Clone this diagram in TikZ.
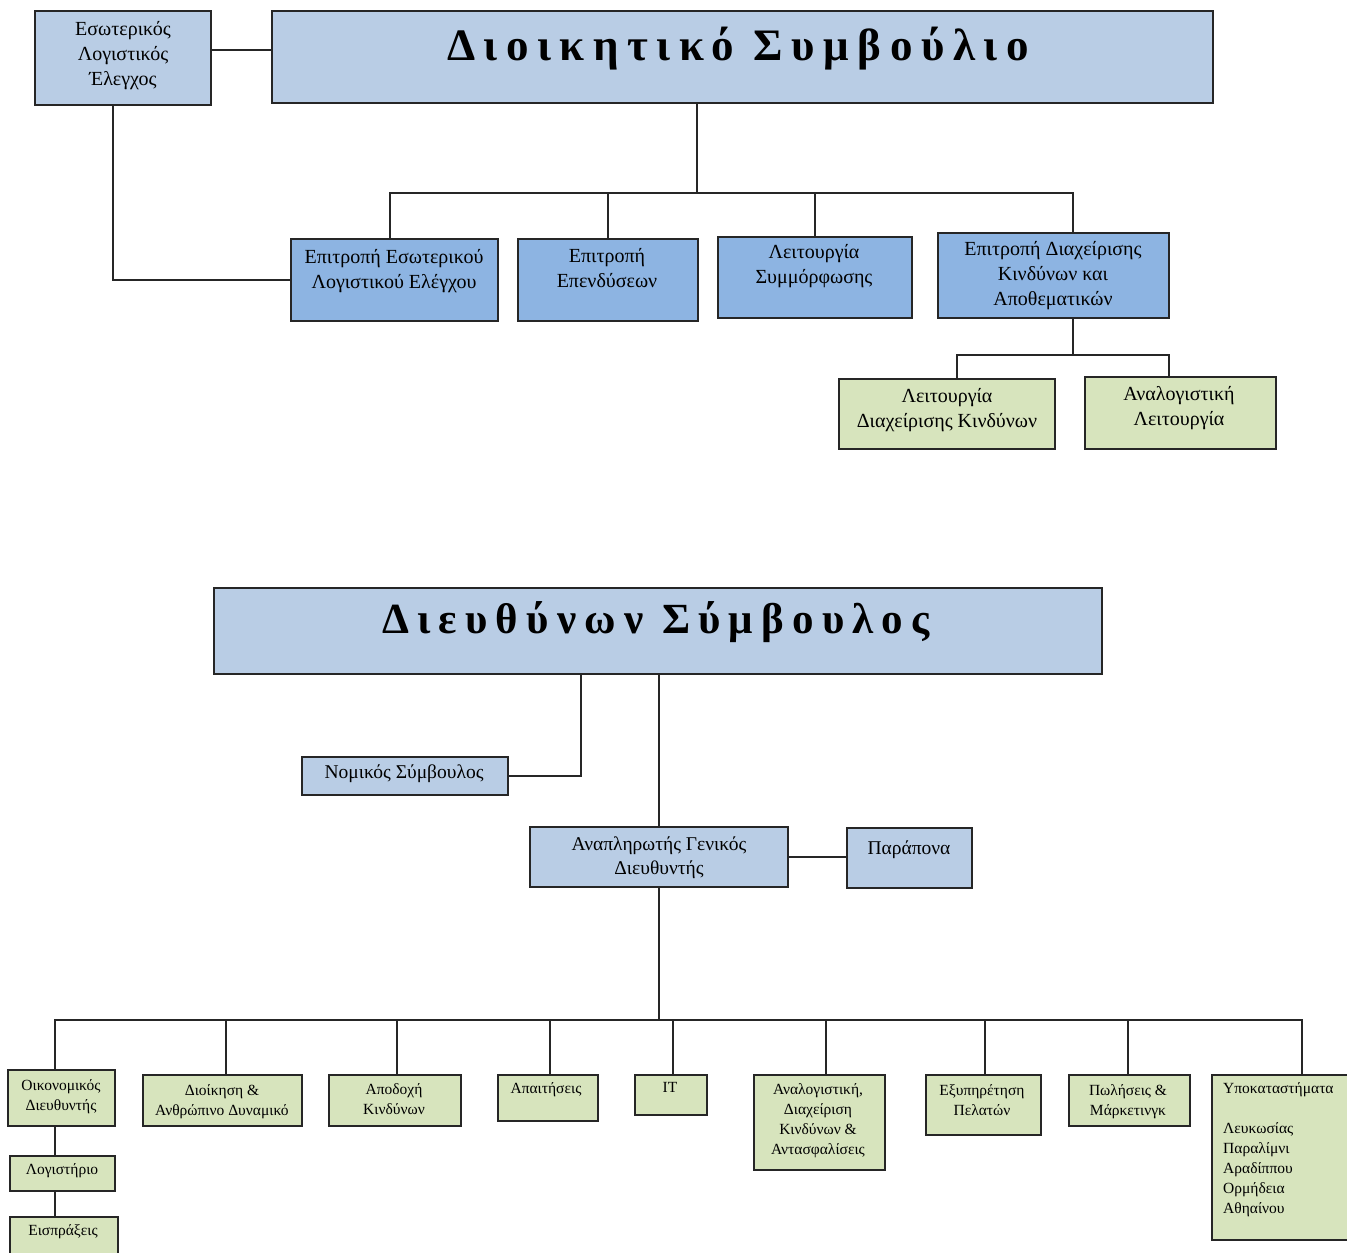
\documentclass[tikz,border=0pt]{standalone}
\usepackage{fontspec}
\setmainfont{Liberation Serif}
\newfontfamily\titlefont[LetterSpace=19]{Liberation Serif}
\definecolor{lb}{HTML}{B9CDE5}
\definecolor{mb}{HTML}{8DB4E2}
\definecolor{gr}{HTML}{D7E4BD}
\definecolor{ln}{HTML}{262626}
\tikzset{
 boxbase/.style={draw=ln, line width=1.6pt, inner sep=0pt, outer sep=0pt, anchor=north west},
 lbox/.style={boxbase, fill=lb},
 mbox/.style={boxbase, fill=mb},
 gbox/.style={boxbase, fill=gr},
 conn/.style={draw=ln, line width=1.4pt},
 tbig/.style={font=\fontsize{20}{25}\selectfont, align=center, anchor=north, inner sep=0pt},
 tmid/.style={font=\fontsize{19.5}{24}\selectfont, align=center, anchor=north, inner sep=0pt},
 tsmall/.style={font=\fontsize{15.5}{20}\selectfont, align=center, anchor=north, inner sep=0pt},
 ttitle/.style={font=\titlefont\bfseries, anchor=base, inner sep=0pt}
}
\newcommand\mybox[6]{\node[#2, minimum width=#5-#3, minimum height=#6-#4] (#1) at (#3,-#4) {};}
\begin{document}
\begin{tikzpicture}[x=1pt,y=1pt]
\useasboundingbox (0,0) rectangle (1347,-1253);
\clip (0,0) rectangle (1347,-1253);
\fill[white] (0,0) rectangle (1347,-1253);

% ---- boxes ----
\mybox{ele}{lbox}{35}{11}{211}{105}
\mybox{ds}{lbox}{272}{11}{1213}{103}
\mybox{c1}{mbox}{291}{239}{498}{321}
\mybox{c2}{mbox}{518}{239}{698}{321}
\mybox{c3}{mbox}{718}{237}{912}{318}
\mybox{c4}{mbox}{938}{233}{1169}{318}
\mybox{g1}{gbox}{839}{379}{1055}{449}
\mybox{g2}{gbox}{1085}{377}{1276}{449}
\mybox{dc}{lbox}{214}{588}{1102}{674}
\mybox{nom}{lbox}{302}{757}{508}{795}
\mybox{ana}{lbox}{530}{827}{788}{887}
\mybox{par}{lbox}{847}{828}{972}{888}
\mybox{b1}{gbox}{8}{1070}{115}{1126}
\mybox{l1}{gbox}{10}{1156}{115}{1191}
\mybox{l2}{gbox}{10}{1217}{118}{1270}
\mybox{b2}{gbox}{143}{1075}{302}{1126}
\mybox{b3}{gbox}{329}{1075}{461}{1126}
\mybox{b4}{gbox}{498}{1075}{598}{1121}
\mybox{b5}{gbox}{635}{1075}{707}{1115}
\mybox{b6}{gbox}{754}{1075}{885}{1170}
\mybox{b7}{gbox}{926}{1075}{1041}{1135}
\mybox{b8}{gbox}{1069}{1075}{1190}{1126}
\mybox{b9}{gbox}{1212}{1075}{1360}{1240}

% ---- texts ----
\node[ttitle, font=\titlefont\bfseries\fontsize{45}{54}\selectfont] (dsT) at (738,-60) {Διοικητικό Συμβούλιο};
\node[ttitle, font=\titlefont\bfseries\fontsize{43}{52}\selectfont] (dcT) at (656,-633) {Διευθύνων Σύμβουλος};
\node[tbig] (eleT) at (123,-21) {Εσωτερικός\\Λογιστικός\\Έλεγχος};
\node[tbig] (c1T) at (394,-249) {Επιτροπή Εσωτερικού\\Λογιστικού Ελέγχου};
\node[tbig] (c2T) at (607,-248) {Επιτροπή\\Επενδύσεων};
\node[tbig] (c3T) at (814,-244) {Λειτουργία\\Συμμόρφωσης};
\node[tbig] (c4T) at (1053,-241) {Επιτροπή Διαχείρισης\\Κινδύνων και\\Αποθεματικών};
\node[tbig] (g1T) at (947,-388) {Λειτουργία\\Διαχείρισης Κινδύνων};
\node[tbig] (g2T) at (1179,-386) {Αναλογιστική\\Λειτουργία};
\node[tmid] (nomT) at (404,-765) {Νομικός Σύμβουλος};
\node[tmid] (anaT) at (659,-837) {Αναπληρωτής Γενικός\\Διευθυντής};
\node[tmid] (parT) at (909,-841) {Παράπονα};
\node[tsmall] (b1T) at (61,-1079) {Οικονομικός\\Διευθυντής};
\node[tsmall] (l1T) at (62,-1163) {Λογιστήριο};
\node[tsmall] (l2T) at (63,-1224) {Εισπράξεις};
\node[tsmall] (b2T) at (222,-1084) {Διοίκηση \&\\Ανθρώπινο Δυναμικό};
\node[tsmall] (b3T) at (394,-1083) {Αποδοχή\\Κινδύνων};
\node[tsmall] (b4T) at (546,-1082) {Απαιτήσεις};
\node[tsmall] (b5T) at (670,-1082) {IT};
\node[tsmall] (b6T) at (818,-1083) {Αναλογιστική,\\Διαχείριση\\Κινδύνων \&\\Αντασφαλίσεις};
\node[tsmall] (b7T) at (982,-1084) {Εξυπηρέτηση\\Πελατών};
\node[tsmall] (b8T) at (1128,-1084) {Πωλήσεις \&\\Μάρκετινγκ};
\node[tsmall, anchor=north west, align=left] (b9T) at (1223,-1082) {Υποκαταστήματα\\[20pt]Λευκωσίας\\Παραλίμνι\\Αραδίππου\\Ορμήδεια\\Αθηαίνου};

% ---- connectors ----
\draw[conn] ([yshift=8]ele.east) -- ([yshift=8]ele.east -| ds.west);
\draw[conn] ([xshift=-10]ele.south) |- (c1.west);
\draw[conn] ([xshift=-45.5]ds.south) -- ++(0,-90) coordinate (hubA);
\draw[conn] ([xshift=-4.5]c1.north) |- (hubA) -| ([xshift=19.5]c4.north);
\draw[conn] (c2.north) -- ++(0,46);
\draw[conn] (c3.north) -- ++(0,44);
\draw[conn] ([xshift=19.5]c4.south) -- ++(0,-37) coordinate (hubB);
\draw[conn] ([xshift=10]g1.north) |- (hubB) -| ([xshift=-11.5]g2.north);

\draw[conn] ([xshift=-77]dc.south) |- (nom.east);
\draw[conn] (ana.north |- dc.south) -- (ana.north);
\draw[conn] (ana.east) -- (ana.east -| par.west);
\draw[conn] (ana.south) -- ++(0,-133) coordinate (hubC);
\draw[conn] ([xshift=-6.5]b1.north) |- (hubC) -| ([xshift=16]b9.north);
\draw[conn] ([xshift=3.5]b2.north) -- ++(0,55);
\draw[conn] ([xshift=2]b3.north) -- ++(0,55);
\draw[conn] ([xshift=2]b4.north) -- ++(0,55);
\draw[conn] ([xshift=2]b5.north) -- ++(0,55);
\draw[conn] ([xshift=6.5]b6.north) -- ++(0,55);
\draw[conn] ([xshift=1.5]b7.north) -- ++(0,55);
\draw[conn] ([xshift=-1.5]b8.north) -- ++(0,55);
\draw[conn] ([xshift=-6.5]b1.south) -- ([xshift=-6.5]b1.south |- l1.north);
\draw[conn] ([xshift=-7.5]l1.south) -- ([xshift=-7.5]l1.south |- l2.north);
\end{tikzpicture}
\end{document}
